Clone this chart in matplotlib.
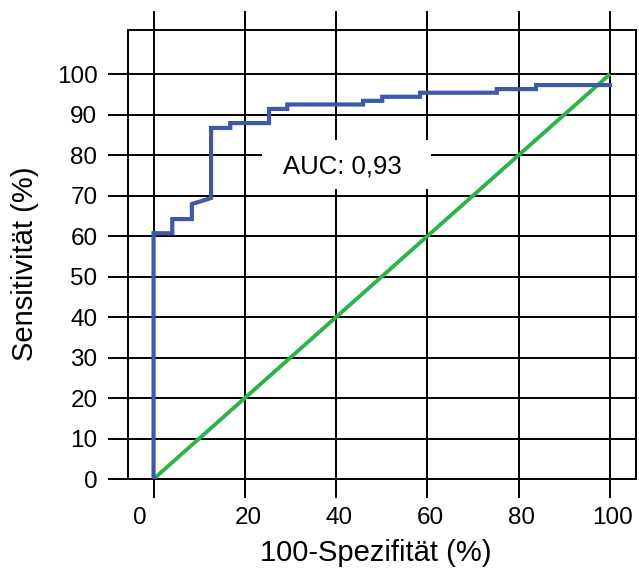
import matplotlib.pyplot as plt
from matplotlib.patches import Rectangle
from matplotlib.transforms import ScaledTranslation

plt.rcParams['font.family'] = ['Liberation Sans', 'DejaVu Sans']

# ROC-Kurve (Stufenpunkte), Werte in %
roc_x = [0, 0, 4.1, 4.1, 8.4, 8.4, 12.6, 12.6, 16.8, 16.8, 25.3, 25.3, 29.3, 29.3,
         45.9, 45.9, 50.1, 50.1, 58.4, 58.4, 75.2, 75.2, 83.8, 83.8, 100]
roc_y = [0, 60.7, 60.7, 64.2, 64.2, 67.9, 69.4, 86.7, 86.7, 87.9, 87.9, 91.4, 91.4, 92.5,
         92.5, 93.4, 93.4, 94.4, 94.4, 95.4, 95.4, 96.3, 96.3, 97.3, 97.3]
ref_x = [0, 100]
ref_y = [0, 100]
auc_text = 'AUC: 0,93'
x_ticks = [0, 20, 40, 60, 80, 100]
y_ticks = [0, 10, 20, 30, 40, 50, 60, 70, 80, 90, 100]

fig = plt.figure(figsize=(6.39, 5.71), dpi=100)
ax = fig.add_axes([0.2003, 0.1611, 0.7950, 0.7864])
ax.set_xlim(-5.6, 105.7)
ax.set_ylim(0, 110.9)

# Gitterlinien, die über den Rahmen hinausragen
for xv in x_ticks:
    ax.plot([xv, xv], [-4.4, 115.3], color='black', lw=1.4, clip_on=False, zorder=1)
for yv in y_ticks:
    ax.plot([-9.8, 105.7], [yv, yv], color='black', lw=1.4, clip_on=False, zorder=1)

# weißes Feld hinter der AUC-Beschriftung
ax.add_patch(Rectangle((23.8, 71.6), 37.0, 12.1, facecolor='white', edgecolor='none', zorder=2))
ax.text(41.3, 77.3, auc_text, fontsize=18.5, ha='center', va='center', zorder=4)

ax.plot(ref_x, ref_y, color='#2db34a', lw=2.8, zorder=3, solid_capstyle='butt')
ax.plot(roc_x, roc_y, color='#3f58a8', lw=3.0, zorder=3, solid_joinstyle='miter')

for s in ax.spines.values():
    s.set_linewidth(1.4)
    s.set_zorder(1)

ax.set_xticks(x_ticks)
ax.set_yticks(y_ticks)
ax.tick_params(axis='both', length=0, labelsize=17.5)
ax.tick_params(axis='x', pad=20)
ax.tick_params(axis='y', pad=22)

# "0" etwas nach links versetzt
lab0 = ax.get_xticklabels()[0]
lab0.set_transform(lab0.get_transform() + ScaledTranslation(-0.14, 0, fig.dpi_scale_trans))
for lab in ax.get_xticklabels()[1:]:
    lab.set_transform(lab.get_transform() + ScaledTranslation(0.03, 0, fig.dpi_scale_trans))

fig.text(376 / 639, 1 - 553 / 571, '100-Spezifität (%)', fontsize=21, ha='center', va='center')
fig.text(25 / 639, 1 - 264 / 571, 'Sensitivität (%)', fontsize=21, ha='center', va='center',
         rotation=90)

plt.savefig('out.png', dpi=100)
